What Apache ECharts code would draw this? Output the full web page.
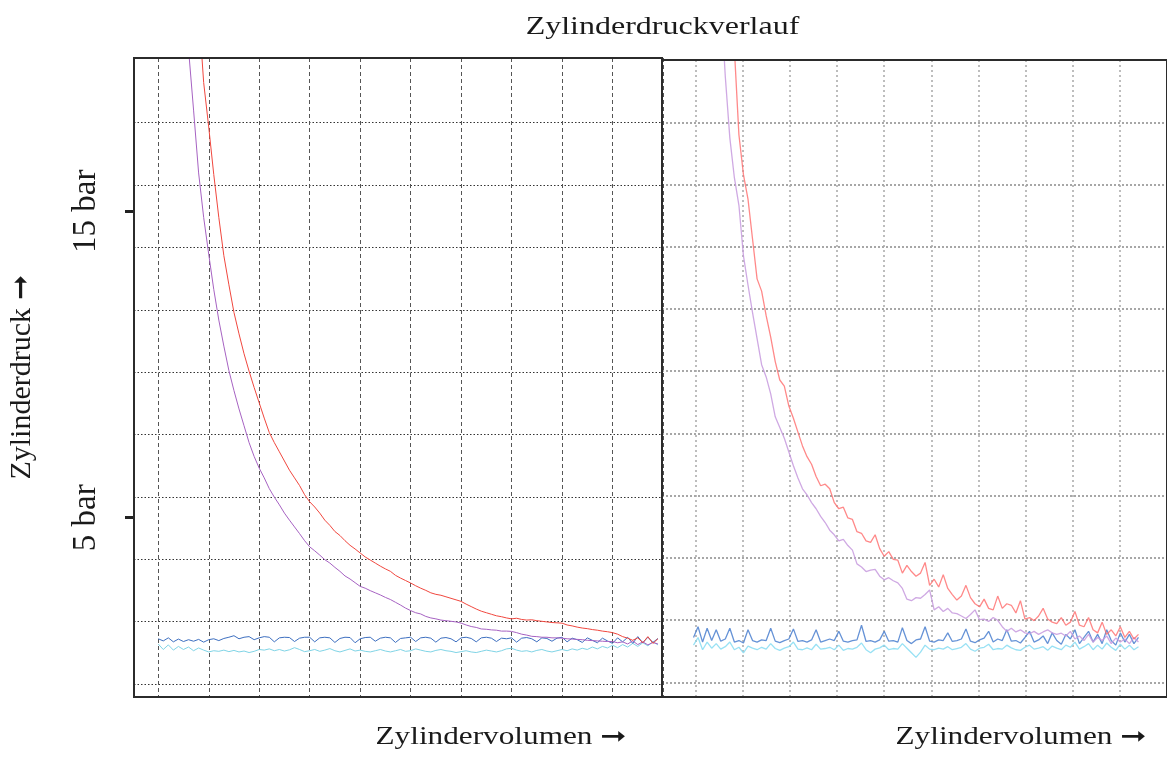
<!DOCTYPE html>
<html>
<head>
<meta charset="utf-8">
<script src="https://cdn.jsdelivr.net/npm/echarts@6/dist/echarts.min.js"></script>
<style>
  html, body { margin: 0; padding: 0; background: #fff; }
  #chart { width: 1167px; height: 758px; }
</style>
</head>
<body>
<div id="chart"></div>
<script>
// texts
const titleText = 'Zylinderdruckverlauf';
const xName = 'Zylindervolumen ➞';
const yName = 'Zylinderdruck ➞';
const yTicks = [5, 15];
const yTickLabels = ['5 bar', '15 bar'];

// left panel, x in grid units (0..9.9), y in bar
const xL = [0,0.1,0.2,0.3,0.4,0.5,0.6,0.7,0.8,0.9,1,1.1,1.2,1.3,1.4,1.5,1.6,1.7,1.8,1.9,2,2.1,2.2,2.3,2.4,2.5,2.6,2.7,2.8,2.9,3,3.1,3.2,3.3,3.4,3.5,3.6,3.7,3.8,3.9,4,4.1,4.2,4.3,4.4,4.5,4.6,4.7,4.8,4.9,5,5.1,5.2,5.3,5.4,5.5,5.6,5.7,5.8,5.9,6,6.1,6.2,6.3,6.4,6.5,6.6,6.7,6.8,6.9,7,7.1,7.2,7.3,7.4,7.5,7.6,7.7,7.8,7.9,8,8.1,8.2,8.3,8.4,8.5,8.6,8.7,8.8,8.9,9,9.1,9.2,9.3,9.4,9.5,9.6,9.7,9.8,9.9];
const redL = [null,null,null,null,null,null,null,null,21.6,19.2,17.75,16.2,14.8,13.55,12.6,11.7,11.0,10.35,9.78,9.25,8.75,8.25,7.78,7.45,7.15,6.85,6.55,6.3,6.05,5.75,5.52,5.35,5.15,4.92,4.75,4.55,4.42,4.25,4.1,3.98,3.85,3.72,3.62,3.52,3.42,3.33,3.25,3.12,3.03,2.95,2.87,2.78,2.7,2.63,2.55,2.5,2.47,2.42,2.37,2.32,2.27,2.18,2.1,2.02,1.95,1.9,1.85,1.8,1.77,1.73,1.7,1.72,1.68,1.66,1.67,1.64,1.62,1.6,1.58,1.57,1.56,1.5,1.47,1.43,1.4,1.38,1.35,1.33,1.3,1.28,1.25,1.2,1.12,1.07,1.0,1.08,0.92,1.12,0.9,1.05];
const purpleL = [null,null,null,null,null,23.0,20.3,18.3,16.25,14.8,13.6,12.45,11.45,10.6,9.8,9.15,8.55,8.0,7.45,7.0,6.62,6.3,5.95,5.67,5.42,5.15,4.92,4.7,4.48,4.25,4.05,3.92,3.78,3.63,3.52,3.38,3.25,3.1,3.0,2.88,2.76,2.7,2.62,2.55,2.48,2.4,2.33,2.24,2.15,2.05,1.97,1.9,1.86,1.78,1.73,1.7,1.66,1.64,1.62,1.6,1.56,1.5,1.45,1.42,1.37,1.36,1.34,1.33,1.3,1.3,1.29,1.25,1.2,1.17,1.13,1.12,1.1,1.1,1.08,1.08,1.07,1.05,1.04,1.03,1.02,1.0,0.99,0.98,0.97,0.96,0.96,0.92,0.95,0.88,0.98,0.86,0.95,0.85,0.93,0.88];
const blueL = [1.05,0.98,1.08,0.95,1.04,0.96,1.02,0.97,1.03,0.94,1.02,1.05,0.99,1.06,1.1,1.15,1.05,1.1,1.12,1.02,1.08,1.12,1.1,0.95,1.08,1.1,1.09,0.96,1.07,1.1,1.1,0.95,1.08,1.1,1.08,0.93,1.06,1.1,1.09,0.92,1.05,1.09,1.1,0.97,1.07,1.1,1.08,0.93,1.06,1.08,1.1,0.96,1.08,1.1,1.07,0.94,1.07,1.09,1.05,0.95,1.08,1.1,1.06,0.95,1.08,1.1,1.07,0.96,1.07,1.05,1.08,0.94,1.07,1.09,1.05,0.95,1.08,1.06,0.97,1.07,1.1,0.95,1.07,1.02,0.93,1.08,1.0,0.92,1.07,0.98,0.9,1.08,0.95,1.1,0.9,1.12,0.92,1.1,0.93,1.06];
const cyanL = [0.88,0.7,0.85,0.68,0.8,0.7,0.78,0.66,0.75,0.68,0.62,0.66,0.64,0.68,0.63,0.67,0.62,0.65,0.6,0.64,0.7,0.68,0.72,0.66,0.7,0.65,0.69,0.76,0.7,0.63,0.66,0.7,0.64,0.68,0.73,0.66,0.62,0.67,0.72,0.65,0.68,0.64,0.62,0.66,0.7,0.65,0.62,0.66,0.7,0.64,0.66,0.72,0.68,0.64,0.62,0.67,0.7,0.66,0.64,0.6,0.63,0.66,0.62,0.6,0.64,0.68,0.65,0.62,0.66,0.72,0.74,0.68,0.64,0.66,0.62,0.67,0.7,0.65,0.62,0.66,0.7,0.66,0.72,0.68,0.74,0.7,0.78,0.72,0.8,0.75,0.84,0.76,0.86,0.78,0.9,0.8,0.92,0.82,0.95,0.85];

// right panel, x in grid units (0..9.8), y in bar
const xR = [0,0.1,0.2,0.3,0.4,0.5,0.6,0.7,0.8,0.9,1,1.1,1.2,1.3,1.4,1.5,1.6,1.7,1.8,1.9,2,2.1,2.2,2.3,2.4,2.5,2.6,2.7,2.8,2.9,3,3.1,3.2,3.3,3.4,3.5,3.6,3.7,3.8,3.9,4,4.1,4.2,4.3,4.4,4.5,4.6,4.7,4.8,4.9,5,5.1,5.2,5.3,5.4,5.5,5.6,5.7,5.8,5.9,6,6.1,6.2,6.3,6.4,6.5,6.6,6.7,6.8,6.9,7,7.1,7.2,7.3,7.4,7.5,7.6,7.7,7.8,7.9,8,8.1,8.2,8.3,8.4,8.5,8.6,8.7,8.8,8.9,9,9.1,9.2,9.3,9.4,9.5,9.6,9.7,9.8];
const redR = [null,null,null,null,null,null,null,null,22.5,20.3,17.5,16.2,15.4,14.1,12.8,12.4,11.6,10.9,10.1,9.5,9.3,8.65,8.25,7.8,7.35,7.0,6.75,6.35,6.05,6.1,5.95,5.5,5.3,5.35,5.0,4.95,4.55,4.5,4.25,4.2,4.45,4.0,3.75,3.9,3.65,3.62,3.2,3.45,3.25,3.1,3.2,3.55,2.8,3.0,2.75,3.15,2.7,2.5,2.32,2.45,2.8,2.4,2.2,2.1,2.35,2.05,2.0,2.45,2.05,2.2,2.15,1.9,2.3,1.7,1.75,1.65,1.8,2.05,1.7,1.6,1.55,1.75,1.5,1.6,1.95,1.5,1.45,1.75,1.35,1.25,1.6,1.2,1.35,1.15,1.45,1.1,1.3,1.05,1.2];
const purpleR = [null,null,null,null,null,null,22.0,19.4,17.4,16.1,15.2,13.55,12.6,11.7,10.85,10.0,9.6,9.05,8.3,7.95,7.6,7.15,6.7,6.3,5.95,5.75,5.5,5.3,5.05,4.85,4.6,4.45,4.25,4.3,4.1,3.95,3.5,3.4,3.25,3.3,3.32,3.1,2.98,3.05,2.95,2.88,2.7,2.35,2.3,2.4,2.38,2.5,2.65,2.0,2.1,1.95,2.05,1.9,1.88,1.8,1.72,1.85,2.0,1.68,1.7,1.62,1.75,1.66,1.45,1.3,1.4,1.28,1.35,1.25,1.22,1.3,1.2,1.28,1.35,1.25,1.2,1.24,1.15,1.3,1.05,1.15,1.0,1.2,0.95,1.1,1.0,1.15,0.9,1.08,0.95,1.05,0.9,1.1,0.95];
const blueR = [1.1,1.45,0.95,1.4,1.0,1.35,0.98,1.05,1.4,0.95,1.0,0.92,1.35,1.0,0.95,1.02,1.0,1.4,0.98,0.93,1.0,1.05,1.38,0.97,1.0,0.95,1.02,1.35,0.95,1.0,1.05,1.0,1.3,0.98,0.95,1.0,1.02,1.5,0.97,1.0,0.95,1.02,1.3,0.98,1.0,0.95,1.42,1.0,0.9,1.02,1.05,1.45,0.98,0.95,1.02,1.0,1.25,0.97,1.0,1.05,1.38,0.98,0.93,1.02,1.08,1.3,0.95,1.05,1.0,1.35,0.98,1.0,0.92,1.1,1.3,0.95,1.02,1.15,0.9,1.25,1.0,0.88,1.2,1.05,1.35,0.9,1.1,1.3,0.95,1.2,0.9,1.35,1.0,0.85,1.25,0.95,1.2,0.9,1.1];
const cyanR = [0.85,1.1,0.7,0.95,0.75,0.9,0.72,0.8,0.95,0.7,0.78,0.6,0.82,0.75,0.7,0.78,0.72,0.9,0.74,0.68,0.75,0.8,0.95,0.72,0.7,0.76,0.7,0.88,0.72,0.74,0.78,0.7,0.85,0.68,0.74,0.72,0.78,0.92,0.7,0.6,0.72,0.76,0.85,0.7,0.74,0.72,0.9,0.75,0.6,0.45,0.62,0.85,0.72,0.7,0.75,0.72,0.8,0.7,0.74,0.78,0.9,0.72,0.65,0.75,0.78,0.88,0.7,0.74,0.72,0.85,0.76,0.7,0.68,0.78,0.85,0.72,0.75,0.8,0.68,0.82,0.75,0.7,0.85,0.78,0.95,0.72,0.8,0.9,0.7,0.85,0.72,0.92,0.78,0.68,0.88,0.72,0.85,0.7,0.8];

function pairs(xs, ys) {
  let out = [];
  for (let i = 0; i < xs.length; i++) {
    if (ys[i] != null) out.push([xs[i], ys[i]]);
  }
  return out;
}

const serifFont = "'Liberation Serif', 'DejaVu Serif', serif";
const textColor = '#1a1a1a';
const hidden = { show: false };

function gridAxis(gridIndex, min, max, interval, lineStyle) {
  return {
    gridIndex: gridIndex, type: 'value', min: min, max: max, interval: interval,
    axisLine: { show: false, onZero: false }, axisTick: hidden, axisLabel: hidden,
    splitLine: { show: true, lineStyle: lineStyle }
  };
}
function blankAxis(gridIndex, min, max) {
  return { gridIndex: gridIndex, type: 'value', min: min, max: max, show: false,
    axisLine: { show: false, onZero: false }, splitLine: hidden };
}

function lineSeries(name, xi, data, color, width, opacity) {
  return {
    name: name, type: 'line', xAxisIndex: xi, yAxisIndex: xi,
    data: data, showSymbol: false, symbol: 'none', clip: true,
    lineStyle: { color: color, width: width, opacity: opacity },
    animation: false, silent: true
  };
}

const chart = echarts.init(document.getElementById('chart'), null, { renderer: 'canvas' });

const option = {
  backgroundColor: '#fff',
  animation: false,
  grid: [
    // left frame + data
    { left: 134, top: 58, width: 528, height: 639, show: true, borderColor: '#2b2b2b', borderWidth: 2, z: 5 },
    // left vertical grid lines
    { left: 158.3, top: 58, width: 504.5, height: 639 },
    // left horizontal grid lines
    { left: 134, top: 122.7, width: 528, height: 561.3 },
    // right frame + data
    { left: 662, top: 60, width: 540, height: 637, show: true, borderColor: '#2b2b2b', borderWidth: 2, z: 5 },
    // right vertical grid lines
    { left: 695.7, top: 60, width: 485.5, height: 637 },
    // right horizontal grid lines
    { left: 662, top: 122.3, width: 540, height: 560 }
  ],
  xAxis: [
    blankAxis(0, -0.48, 9.98),
    gridAxis(1, 0, 10, 1, { color: '#555', width: 1, type: [4, 3] }),
    blankAxis(2, 0, 1),
    blankAxis(3, -0.694, 10.428),
    gridAxis(4, 0, 10, 1, { color: '#a8a8a8', width: 1.5, type: [2, 3] }),
    blankAxis(5, 0, 1)
  ],
  yAxis: [
    {
      gridIndex: 0, type: 'value', min: -0.85, max: 20, position: 'left',
      axisLine: { show: false, onZero: false }, splitLine: hidden,
      axisTick: { show: true, customValues: yTicks, length: 9, lineStyle: { color: '#222', width: 3 } },
      axisLabel: {
        show: true, customValues: yTicks, rotate: 90, margin: 31,
        formatter: function (v) { return yTickLabels[yTicks.indexOf(v)]; },
        fontSize: 33, fontFamily: serifFont, color: textColor
      },
      name: yName, nameLocation: 'middle', nameRotate: 90, nameGap: 97,
      nameTextStyle: { fontSize: 30, fontFamily: serifFont, color: textColor }
    },
    blankAxis(1, 0, 1),
    gridAxis(2, 0, 9, 1, { color: '#333', width: 1.2, type: [1.5, 2] }),
    blankAxis(3, -0.842, 19.94),
    blankAxis(4, 0, 1),
    gridAxis(5, 0, 9, 1, { color: '#8a8a8a', width: 1.5, type: [2, 2] })
  ],
  graphic: [
    { type: 'text', x: 662.5, y: 27, scaleX: 1.28, z: 10,
      style: { text: titleText, font: "25px 'Liberation Serif', 'DejaVu Sans'", fill: textColor, align: 'center', verticalAlign: 'middle' } },
    { type: 'text', x: 501, y: 737, scaleX: 1.25, z: 10,
      style: { text: xName, font: "25px 'Liberation Serif', 'DejaVu Sans'", fill: textColor, align: 'center', verticalAlign: 'middle' } },
    { type: 'text', x: 1021, y: 737, scaleX: 1.25, z: 10,
      style: { text: xName, font: "25px 'Liberation Serif', 'DejaVu Sans'", fill: textColor, align: 'center', verticalAlign: 'middle' } }
  ],
  series: [
    lineSeries('cyanL', 0, pairs(xL, cyanL), '#80d4e6', 1, 1),
    lineSeries('blueL', 0, pairs(xL, blueL), '#3d6fc0', 1, 1),
    lineSeries('purpleL', 0, pairs(xL, purpleL), '#a662c2', 1, 1),
    lineSeries('redL', 0, pairs(xL, redL), '#f0473e', 1, 1),
    lineSeries('cyanR', 3, pairs(xR, cyanR), '#86dcf2', 1.3, 0.85),
    lineSeries('blueR', 3, pairs(xR, blueR), '#4a7fcf', 1.3, 0.85),
    lineSeries('purpleR', 3, pairs(xR, purpleR), '#c79ade', 1.3, 0.85),
    lineSeries('redR', 3, pairs(xR, redR), '#ff6b6b', 1.3, 0.8)
  ]
};

chart.setOption(option);
window.addEventListener('resize', function () {
  chart.resize();
});
</script>
</body>
</html>
